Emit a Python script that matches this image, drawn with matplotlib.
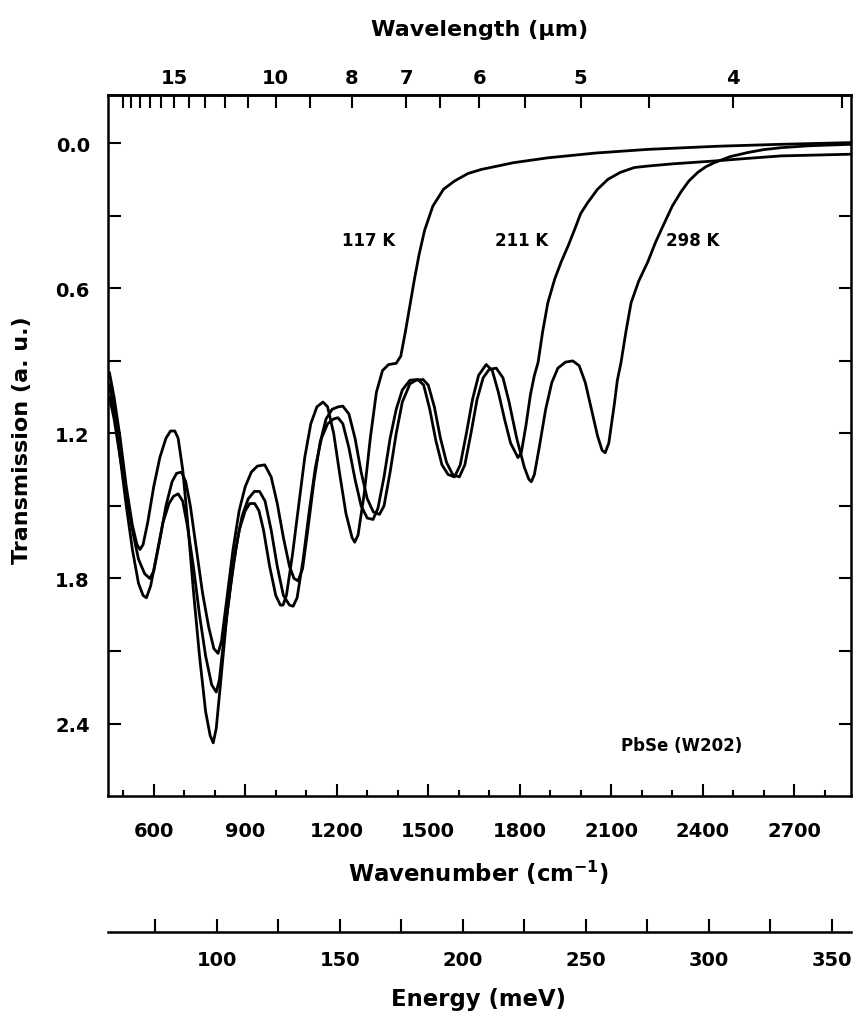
import numpy as np
import matplotlib
matplotlib.use("Agg")
import matplotlib.pyplot as plt
from matplotlib.ticker import FixedLocator, MultipleLocator, NullFormatter, FixedFormatter

plt.rcParams['font.family'] = ['DejaVu Sans']
plt.rcParams['font.weight'] = 'bold'
plt.rcParams['mathtext.default'] = 'bf'

# ---- data (wavenumber cm^-1, transmission a.u.) ----
wn_117 = [455, 470, 490, 510, 530, 545, 555, 565, 580, 600, 620, 640, 655, 669, 680, 695,
          710, 730, 750, 770, 785, 795, 805, 820, 840, 860, 880, 900, 915, 931, 945, 960,
          980, 1000, 1015, 1024, 1035, 1055, 1075, 1095, 1115, 1135, 1155, 1170, 1190, 1210,
          1230, 1250, 1259, 1270, 1290, 1310, 1330, 1350, 1370, 1395, 1410, 1425, 1440, 1455,
          1470, 1488, 1515, 1550, 1586, 1630, 1674, 1780, 1892, 2050, 2220, 2450, 2657, 2886]
tr_117 = [0.95, 1.05, 1.22, 1.42, 1.58, 1.66, 1.68, 1.66, 1.57, 1.42, 1.30, 1.22, 1.19, 1.19, 1.22, 1.35,
          1.55, 1.85, 2.12, 2.35, 2.45, 2.48, 2.42, 2.22, 1.95, 1.75, 1.60, 1.52, 1.49, 1.49, 1.52, 1.60,
          1.75, 1.87, 1.91, 1.91, 1.87, 1.70, 1.50, 1.30, 1.16, 1.09, 1.07, 1.09, 1.20, 1.37,
          1.53, 1.63, 1.65, 1.62, 1.45, 1.22, 1.03, 0.94, 0.915, 0.91, 0.88, 0.78, 0.67, 0.56,
          0.46, 0.36, 0.26, 0.19, 0.156, 0.125, 0.108, 0.08, 0.06, 0.04, 0.025, 0.012, 0.004, -0.003]

wn_211 = [455, 470, 490, 510, 530, 550, 565, 576, 590, 610, 630, 650, 665, 680, 695, 710,
          730, 750, 770, 790, 805, 815, 830, 850, 870, 890, 910, 930, 947, 965, 985, 1005,
          1025, 1045, 1057, 1070, 1090, 1110, 1130, 1150, 1170, 1190, 1204, 1220, 1240, 1260,
          1280, 1300, 1319, 1335, 1355, 1375, 1395, 1415, 1440, 1466, 1485, 1505, 1525, 1545,
          1565, 1586, 1605, 1625, 1645, 1665, 1690, 1710, 1730, 1750, 1770, 1794, 1805, 1820,
          1835, 1848, 1860, 1875, 1892, 1915, 1936, 1960, 1980, 2000, 2023, 2055, 2089, 2130,
          2176, 2220, 2300, 2438, 2550, 2657, 2886]
tr_211 = [1.00, 1.10, 1.30, 1.50, 1.68, 1.82, 1.87, 1.88, 1.83, 1.70, 1.57, 1.49, 1.46, 1.45, 1.48, 1.58,
          1.75, 1.95, 2.12, 2.24, 2.27, 2.22, 2.05, 1.85, 1.67, 1.54, 1.47, 1.44, 1.44, 1.48, 1.60, 1.75,
          1.87, 1.91, 1.915, 1.88, 1.72, 1.52, 1.34, 1.22, 1.16, 1.14, 1.135, 1.16, 1.26, 1.39,
          1.50, 1.55, 1.556, 1.51, 1.38, 1.22, 1.10, 1.02, 0.98, 0.977, 1.00, 1.10, 1.23, 1.33,
          1.37, 1.38, 1.33, 1.20, 1.06, 0.96, 0.915, 0.94, 1.03, 1.14, 1.24, 1.30, 1.28, 1.17,
          1.04, 0.96, 0.907, 0.78, 0.66, 0.56, 0.49, 0.42, 0.356, 0.29, 0.245, 0.19, 0.149, 0.12,
          0.10, 0.094, 0.085, 0.073, 0.062, 0.052, 0.045]

wn_298 = [455, 470, 490, 510, 530, 550, 570, 587, 600, 620, 640, 660, 675, 691, 705, 720,
          740, 760, 780, 797, 811, 822, 840, 860, 880, 900, 920, 940, 964, 985, 1005, 1025,
          1045, 1060, 1073, 1088, 1105, 1125, 1145, 1165, 1185, 1205, 1220, 1240, 1260, 1280,
          1300, 1320, 1340, 1355, 1375, 1395, 1415, 1440, 1460, 1483, 1500, 1520, 1540, 1560,
          1580, 1602, 1620, 1640, 1660, 1680, 1700, 1723, 1745, 1765, 1790, 1815, 1830, 1838,
          1848, 1865, 1885, 1905, 1925, 1950, 1974, 1995, 2015, 2035, 2055, 2070, 2080, 2092,
          2110, 2120, 2132, 2148, 2165, 2190, 2220, 2245, 2274, 2300, 2329, 2355, 2384, 2410,
          2438, 2490, 2548, 2600, 2657, 2750, 2886]
tr_298 = [1.05, 1.14, 1.30, 1.45, 1.60, 1.72, 1.78, 1.80, 1.77, 1.64, 1.50, 1.40, 1.365, 1.36, 1.40, 1.50,
          1.68, 1.86, 2.00, 2.09, 2.11, 2.06, 1.88, 1.68, 1.52, 1.42, 1.36, 1.335, 1.33, 1.38, 1.49, 1.63,
          1.75, 1.80, 1.81, 1.76, 1.60, 1.40, 1.24, 1.14, 1.10, 1.09, 1.087, 1.12, 1.22, 1.36,
          1.47, 1.525, 1.535, 1.50, 1.36, 1.20, 1.07, 0.995, 0.98, 0.977, 1.00, 1.09, 1.22, 1.32,
          1.37, 1.38, 1.33, 1.20, 1.06, 0.97, 0.935, 0.93, 0.97, 1.07, 1.22, 1.34, 1.39, 1.40,
          1.37, 1.25, 1.10, 0.99, 0.93, 0.905, 0.90, 0.92, 0.99, 1.10, 1.21, 1.27, 1.28, 1.24,
          1.08, 0.98, 0.907, 0.78, 0.66, 0.57, 0.49, 0.41, 0.33, 0.26, 0.20, 0.155, 0.12, 0.097,
          0.08, 0.055, 0.038, 0.026, 0.018, 0.010, 0.004]

curve_labels = ["117 K", "211 K", "298 K"]
label_wn = [1306, 1805, 2368]
label_tr = [0.40, 0.40, 0.40]

wl_ticks = [20, 19, 18, 17, 16, 15, 14, 13, 12, 11, 10, 9, 8, 7, 6.5, 6, 5.5, 5, 4.5, 4, 3.5]
wl_labeled = [15, 10, 8, 7, 6, 5, 4]
mev_ticks = [75, 100, 125, 150, 175, 200, 225, 250, 275, 300, 325, 350]
mev_labeled = [100, 150, 200, 250, 300, 350]
CM_PER_MEV = 8.0655

fig = plt.figure(figsize=(8.55, 10.2), dpi=100)
ax = fig.add_axes([0.1263, 0.2186, 0.8690, 0.6873])

for wn, tr in [(wn_117, tr_117), (wn_211, tr_211), (wn_298, tr_298)]:
    ax.plot(wn, tr, color='black', lw=2.0, solid_joinstyle='round')

ax.set_xlim(450, 2886)
ax.set_ylim(2.7, -0.2)

for s in ax.spines.values():
    s.set_linewidth(1.8)

ax.xaxis.set_major_locator(MultipleLocator(300))
ax.xaxis.set_minor_locator(MultipleLocator(100))
ax.yaxis.set_major_locator(FixedLocator([0.0, 0.6, 1.2, 1.8, 2.4]))
ax.yaxis.set_minor_locator(FixedLocator([-0.3, 0.3, 0.9, 1.5, 2.1]))
ax.yaxis.set_major_formatter(FixedFormatter(["0.0", "0.6", "1.2", "1.8", "2.4"]))
ax.tick_params(axis='x', which='major', direction='in', length=9, width=1.5,
               labelsize=14, pad=18, top=False)
ax.tick_params(axis='x', which='minor', direction='in', length=4, width=1.5, top=False)
ax.tick_params(axis='y', which='both', direction='in', length=9, width=1.5,
               labelsize=14, pad=13, right=True)

# top axis: wavelength in micrometres
def wn_to_um(x):
    x = np.asarray(x, dtype=float)
    return 1e4 / np.where(x == 0, 1e-9, x)

top = ax.secondary_xaxis('top', functions=(wn_to_um, wn_to_um))
top.xaxis.set_major_locator(FixedLocator(wl_labeled))
top.xaxis.set_major_formatter(FixedFormatter([str(v) for v in wl_labeled]))
top.xaxis.set_minor_locator(FixedLocator([v for v in wl_ticks if v not in wl_labeled]))
top.xaxis.set_minor_formatter(NullFormatter())
top.tick_params(which='both', direction='in', length=9, width=1.5, labelsize=14, pad=6)
top.spines['top'].set_linewidth(1.8)

# bottom-most axis: photon energy
def wn_to_mev(x):
    return np.asarray(x, dtype=float) / CM_PER_MEV

def mev_to_wn(x):
    return np.asarray(x, dtype=float) * CM_PER_MEV

en = ax.secondary_xaxis(-0.194, functions=(wn_to_mev, mev_to_wn))
en.xaxis.set_major_locator(FixedLocator(mev_ticks))
en.xaxis.set_major_formatter(FixedFormatter(
    [str(v) if v in mev_labeled else "" for v in mev_ticks]))
en.tick_params(which='major', direction='in', length=9.5, width=1.5, labelsize=14, pad=13)
en.tick_params(which='minor', length=0)
en.spines['bottom'].set_linewidth(1.8)

for txt, x, y in zip(curve_labels, label_wn, label_tr):
    ax.text(x, y, txt, fontsize=12, fontweight='bold', ha='center', va='center')
ax.text(2330, 2.487, "PbSe (W202)", fontsize=12, fontweight='bold', ha='center', va='center')

fig.text(480 / 855, 1 - 30 / 1020, "Wavelength (\u03bcm)", fontsize=16, fontweight='bold',
         ha='center', va='center')
fig.text(22 / 855, 1 - 440 / 1020, "Transmission (a. u.)", fontsize=16, fontweight='bold',
         ha='center', va='center', rotation=90)
fig.text(478 / 855, 1 - 873 / 1020, "Wavenumber (cm$^{-1}$)", fontsize=16.4,
         fontweight='bold', ha='center', va='center')
fig.text(478 / 855, 1 - 1000 / 1020, "Energy (meV)", fontsize=16.4, fontweight='bold',
         ha='center', va='center')

fig.savefig("out.png", dpi=100)
